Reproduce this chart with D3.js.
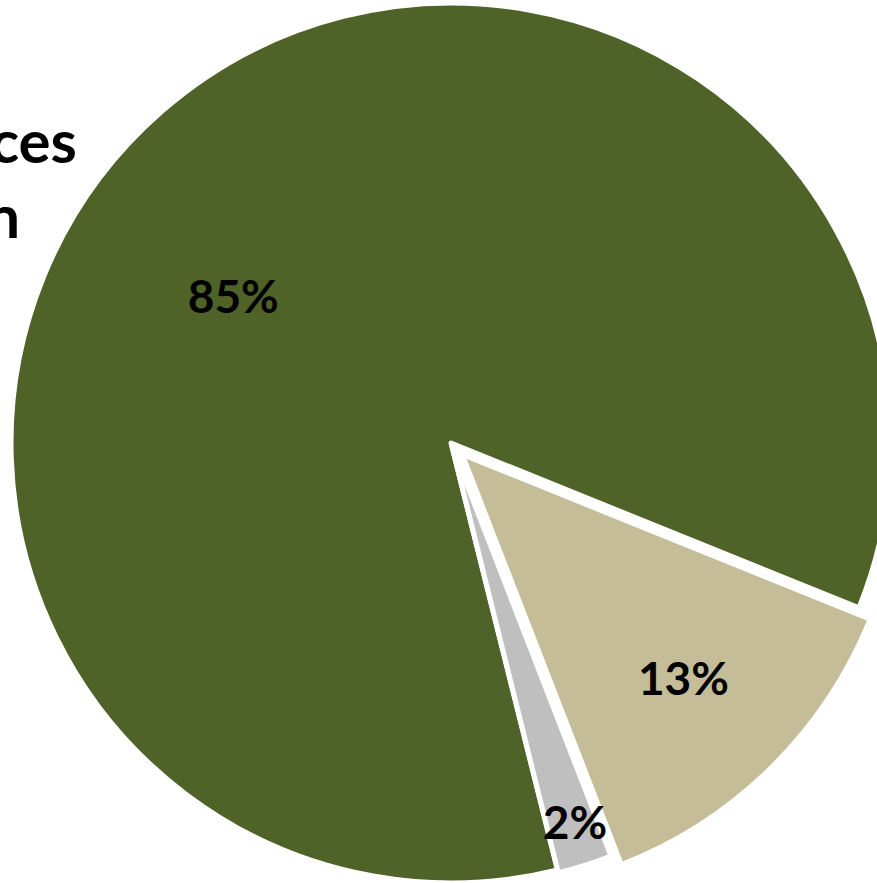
<!DOCTYPE html>
<html>
<head>
<meta charset="utf-8">
<script src="https://cdn.jsdelivr.net/npm/d3@7"></script>
<style>
  html, body { margin: 0; padding: 0; background: #ffffff; overflow: hidden; }
  svg { display: block; }
</style>
</head>
<body>
<svg id="chart" width="877" height="883"></svg>
<script>
// ---- data ----
const sliceNames = ["Green", "Tan", "Gray"];
const sliceValues = [85, 13, 2];
const sliceColors = ["#4F6228", "#C4BD97", "#BFBFBF"];
const sideLabelLines = ["ces", "n"];

// ---- layout / style constants ----
const W = 877, H = 883;
const cx = 451, cy = 443, R = 440;
const startDeg = 166;
const explode = [0, 16, 3];
const labelRadius = [0.597, 0.716, 0.9];
const labelAngleShiftDeg = [-15, 0, -0.5];
const sideLabelX = [77, 20];

const svg = d3.select("#chart");
const g = svg.append("g").attr("transform", `translate(${cx},${cy})`);

const pie = d3.pie().sort(null).value(d => d)
  .startAngle(startDeg * Math.PI / 180)
  .endAngle((startDeg + 360) * Math.PI / 180);
const arcs = pie(sliceValues);
const arc = d3.arc().innerRadius(0).outerRadius(R);

function offset(d, i) {
  const a = (d.startAngle + d.endAngle) / 2;
  const e = explode[i];
  return [Math.sin(a) * e, -Math.cos(a) * e];
}

g.selectAll("path.slice")
  .data(arcs)
  .join("path")
  .attr("class", "slice")
  .attr("d", arc)
  .attr("transform", (d, i) => { const o = offset(d, i); return `translate(${o[0]},${o[1]})`; })
  .attr("fill", (d, i) => sliceColors[i])
  .attr("stroke", "#ffffff")
  .attr("stroke-width", 5)
  .attr("stroke-linejoin", "round");

// percentage labels
g.selectAll("text.pct")
  .data(arcs)
  .join("text")
  .attr("class", "pct")
  .attr("transform", (d, i) => {
    const a = (d.startAngle + d.endAngle) / 2 + labelAngleShiftDeg[i] * Math.PI / 180;
    const o = offset(d, i);
    const r = R * labelRadius[i];
    return `translate(${Math.sin(a) * r + o[0]},${-Math.cos(a) * r + o[1]})`;
  })
  .attr("text-anchor", "middle")
  .attr("dy", "0.36em")
  .attr("font-family", "Lato, 'Open Sans', sans-serif")
  .attr("font-weight", 700)
  .attr("font-size", 46)
  .attr("fill", "#000000")
  .text(d => d.value + "%");

// partially visible side label (cropped at left edge)
svg.append("g")
  .selectAll("text")
  .data(sideLabelLines)
  .join("text")
  .attr("x", (d, i) => sideLabelX[i])
  .attr("y", (d, i) => 163 + i * 75)
  .attr("text-anchor", "end")
  .attr("font-family", "Lato, 'Open Sans', sans-serif")
  .attr("font-weight", 700)
  .attr("font-size", 60)
  .attr("fill", "#000000")
  .text(d => d);
</script>
</body>
</html>
